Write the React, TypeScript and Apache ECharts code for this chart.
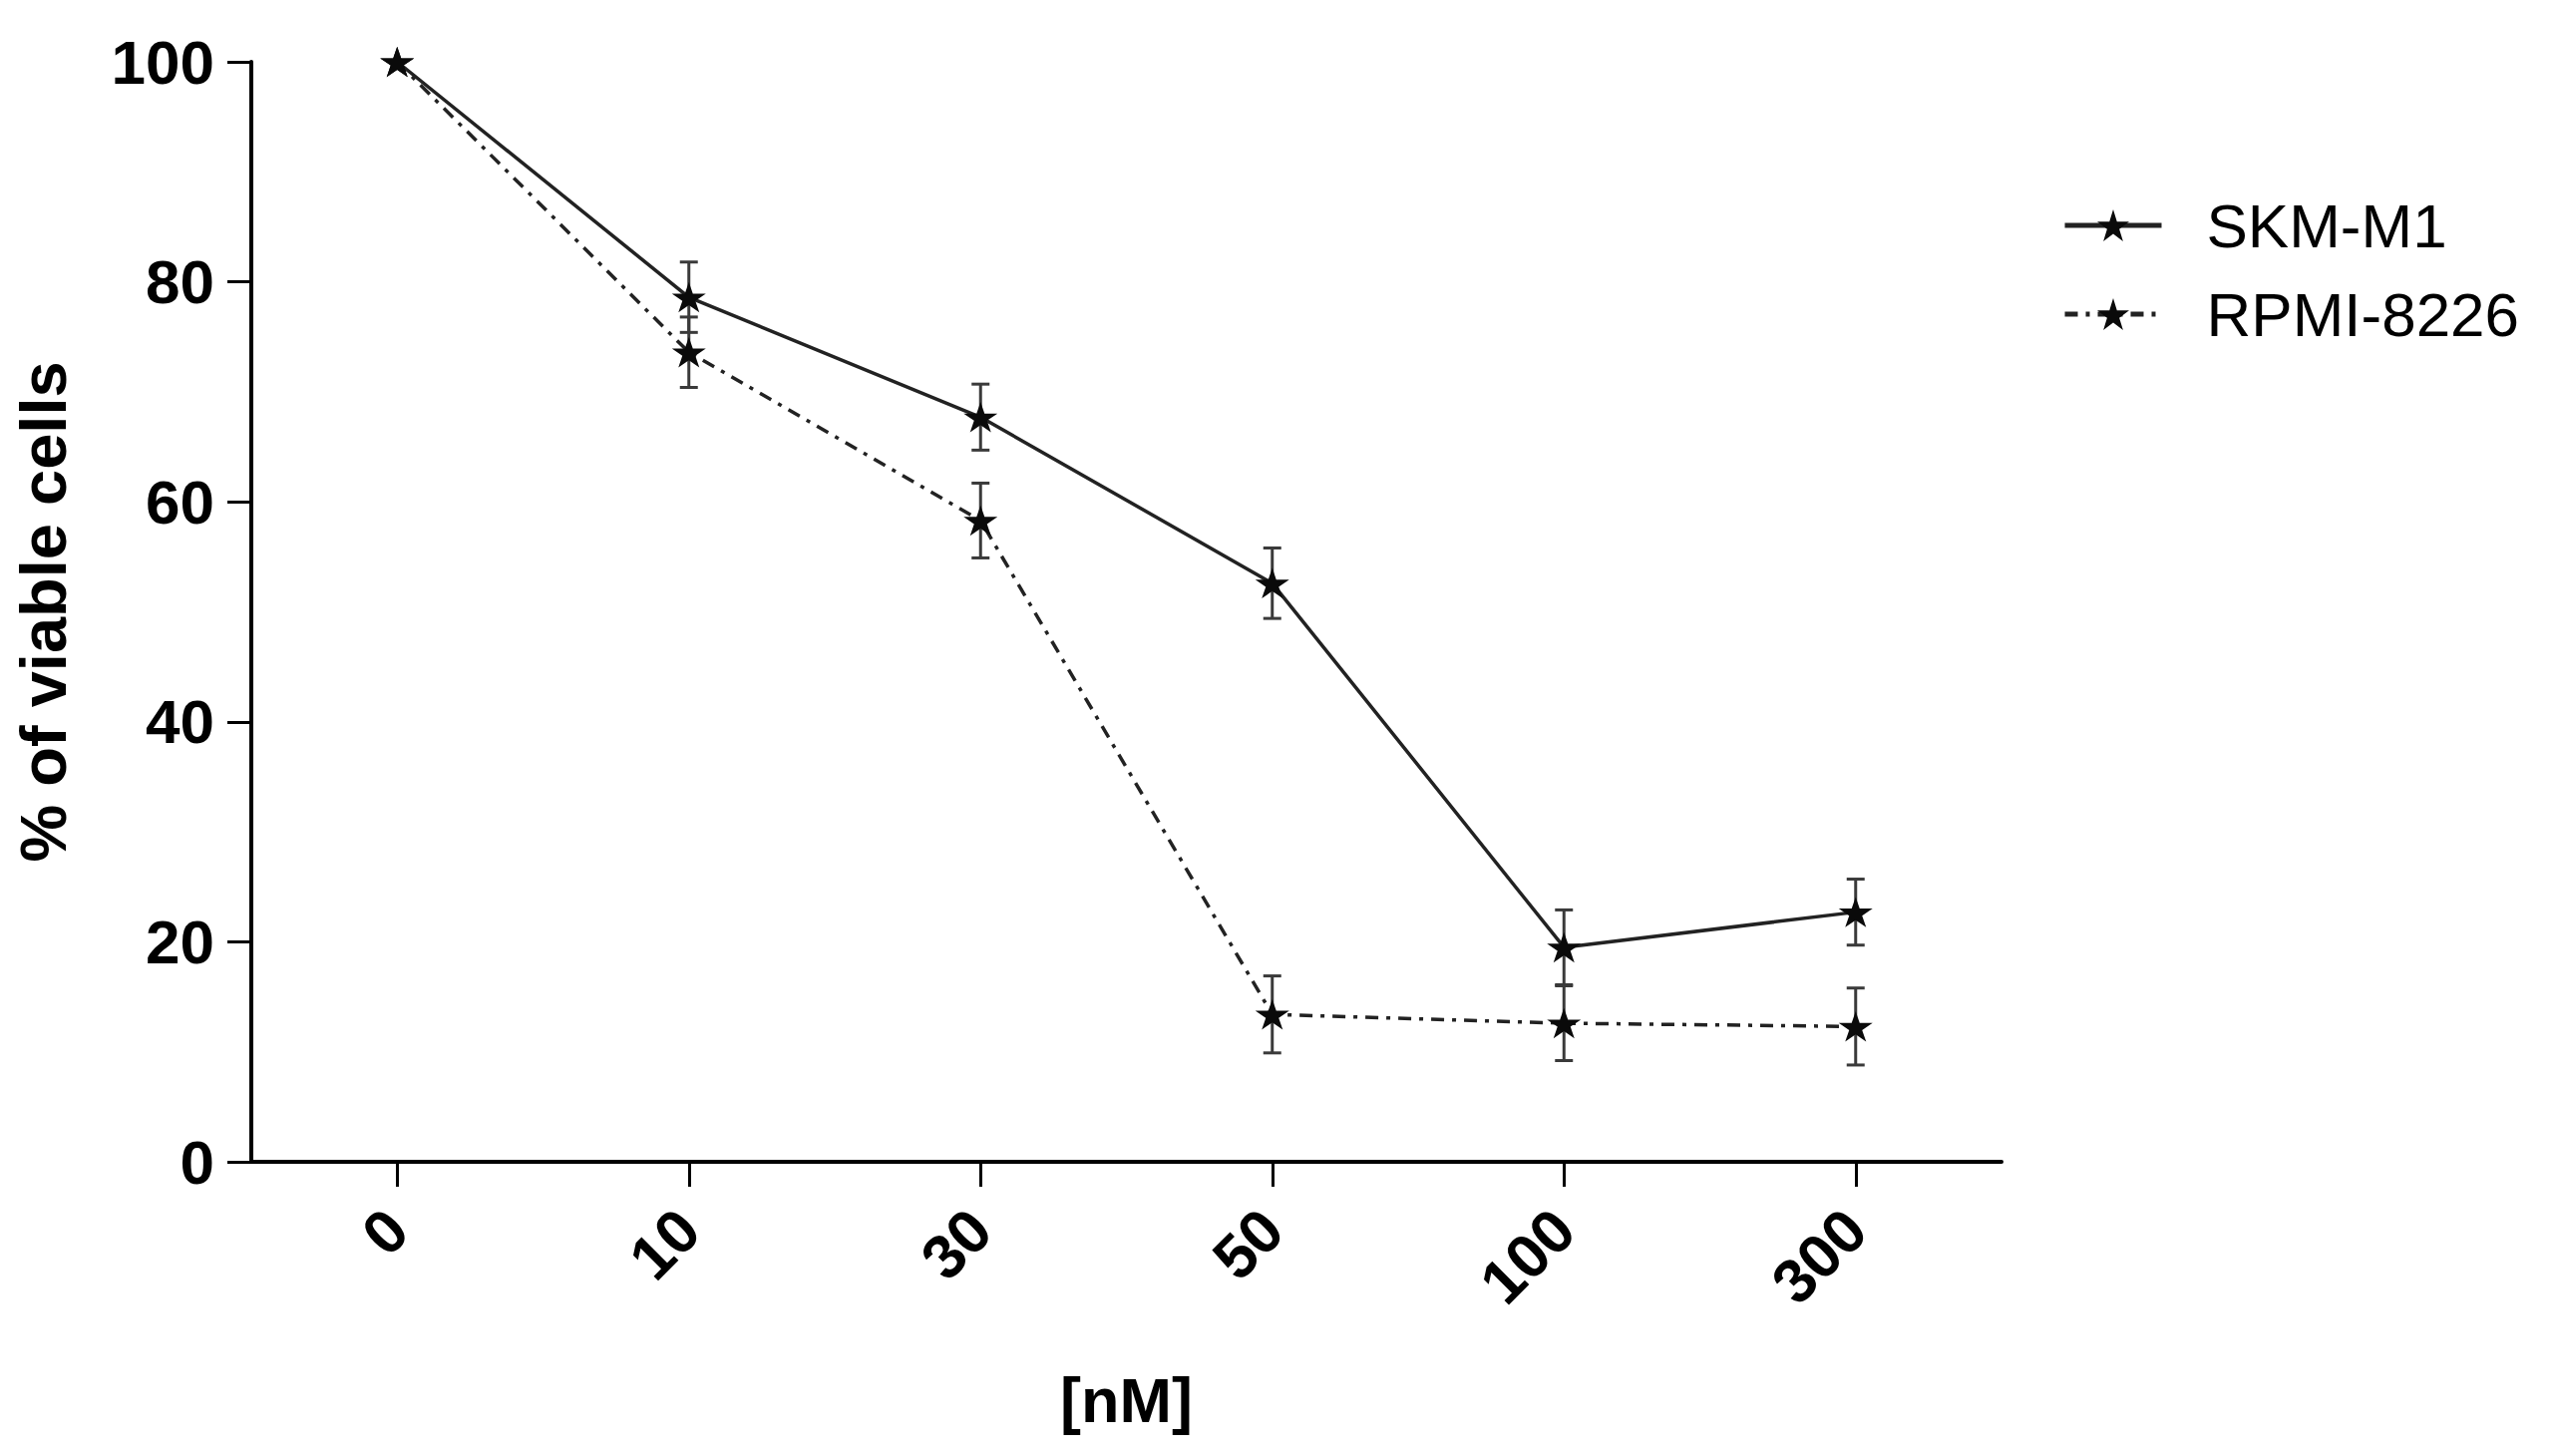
import React, { useEffect, useRef } from "react";
import * as echarts from "echarts";

const concentrations = ["0", "10", "30", "50", "100", "300"];
const skmMean = [100, 78.6, 67.7, 52.6, 19.5, 22.7];
const skmErr = [0, 3.2, 3.0, 3.2, 3.4, 3.0];
const rpmiMean = [100, 73.6, 58.3, 13.4, 12.6, 12.3];
const rpmiErr = [0, 3.2, 3.4, 3.5, 3.4, 3.5];
const seriesNames = ["SKM-M1", "RPMI-8226"];
const yMin = 0;
const yMax = 100;
const yInterval = 20;

const STAR =
  "path://M0,-10L2.245,-3.09L9.51,-3.09L3.633,1.18L5.88,8.09L0,3.82L-5.88,8.09L-3.633,1.18L-9.51,-3.09L-2.245,-3.09Z";
const FONT = "'Liberation Sans', Arial, Helvetica, sans-serif";

function errData(mean: number[], err: number[]) {
  const out: number[][] = [];
  mean.forEach((m, i) => {
    if (err[i] > 0) out.push([i, m - err[i], m + err[i]]);
  });
  return out;
}

const errorRender = (params: any, api: any) => {
  const x = api.value(0);
  const lo = api.value(1);
  const hi = api.value(2);
  const top = api.coord([x, hi]);
  const bot = api.coord([x, lo]);
  const w = 9;
  const style = { stroke: "#3a3a3a", lineWidth: 3 };
  return {
    type: "group",
    children: [
      { type: "line", shape: { x1: top[0], y1: top[1], x2: bot[0], y2: bot[1] }, style },
      { type: "line", shape: { x1: top[0] - w, y1: top[1], x2: top[0] + w, y2: top[1] }, style },
      { type: "line", shape: { x1: bot[0] - w, y1: bot[1], x2: bot[0] + w, y2: bot[1] }, style },
    ],
  };
};

export default function App() {
  const ref = useRef<HTMLDivElement>(null);
  useEffect(() => {
    if (!ref.current) return;
    const chart = echarts.init(ref.current, undefined, { renderer: "svg" });
    chart.setOption({
      animation: false,
      backgroundColor: "#ffffff",
      textStyle: { fontFamily: FONT, color: "#000" },
      grid: { left: 252, right: 549, top: 62, bottom: 295, containLabel: false },
      legend: {
        orient: "vertical",
        left: 2063,
        top: 190,
        itemWidth: 97,
        itemHeight: 40,
        itemGap: 27,
        data: seriesNames,
        lineStyle: { width: 5 },
        textStyle: { fontSize: 62, fontFamily: FONT, color: "#000", padding: [0, 0, 0, 40] },
      },
      xAxis: {
        type: "category",
        data: concentrations,
        boundaryGap: true,
        axisLine: { show: true, lineStyle: { color: "#000", width: 4 } },
        axisTick: { show: true, alignWithLabel: true, length: 25, lineStyle: { color: "#000", width: 3 } },
        axisLabel: { rotate: 45, margin: 58, fontSize: 62, fontWeight: "bold", color: "#000", fontFamily: FONT },
        splitLine: { show: false },
        name: "[nM]",
        nameLocation: "middle",
        nameGap: 207,
        nameTextStyle: { fontSize: 63, fontWeight: "bold", color: "#000", fontFamily: FONT },
      },
      yAxis: {
        type: "value",
        min: yMin,
        max: yMax,
        interval: yInterval,
        axisLine: { show: true, lineStyle: { color: "#000", width: 4 } },
        axisTick: { show: true, length: 24, lineStyle: { color: "#000", width: 3 } },
        axisLabel: { margin: 37, fontSize: 62, fontWeight: "bold", color: "#000", fontFamily: FONT },
        splitLine: { show: false },
        name: "% of viable cells",
        nameLocation: "middle",
        nameGap: 176,
        nameTextStyle: { fontSize: 65, fontWeight: "bold", color: "#000", fontFamily: FONT },
      },
      series: [
        {
          name: "SKM-M1 error",
          type: "custom",
          renderItem: errorRender,
          encode: { x: 0, y: [1, 2] },
          data: errData(skmMean, skmErr),
          z: 1,
          silent: true,
        },
        {
          name: "RPMI-8226 error",
          type: "custom",
          renderItem: errorRender,
          encode: { x: 0, y: [1, 2] },
          data: errData(rpmiMean, rpmiErr),
          z: 1,
          silent: true,
        },
        {
          name: seriesNames[0],
          type: "line",
          data: skmMean,
          symbol: STAR,
          symbolSize: [34, 32],
          symbolKeepAspect: true,
          lineStyle: { color: "#222", width: 3.5, type: "solid" },
          itemStyle: { color: "#0a0a0a" },
          z: 3,
        },
        {
          name: seriesNames[1],
          type: "line",
          data: rpmiMean,
          symbol: STAR,
          symbolSize: [34, 32],
          symbolKeepAspect: true,
          lineStyle: { color: "#222", width: 3.5, type: [13, 8, 4, 8] },
          itemStyle: { color: "#0a0a0a" },
          z: 3,
        },
      ],
    });
    return () => chart.dispose();
  }, []);
  return (
    <div
      ref={ref}
      style={{ position: "fixed", left: 0, top: 0, width: 2556, height: 1460, background: "#fff" }}
    />
  );
}
